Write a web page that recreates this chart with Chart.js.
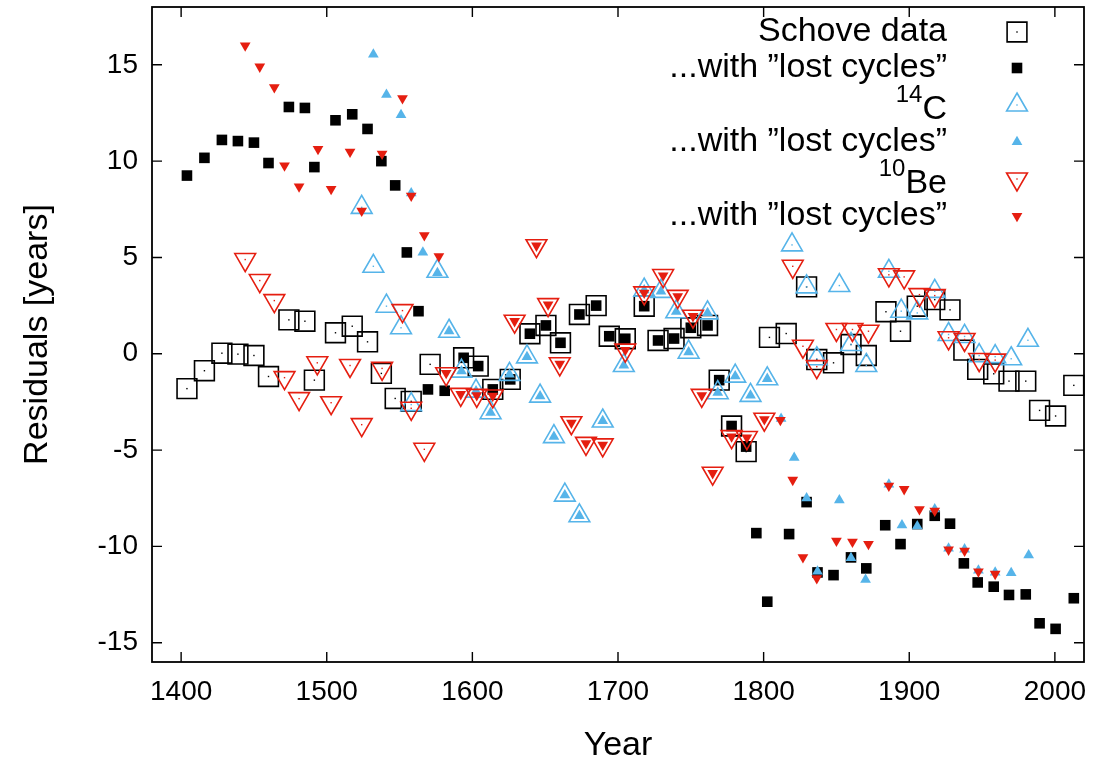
<!DOCTYPE html>
<html><head><meta charset="utf-8">
<script src="https://cdn.jsdelivr.net/npm/chart.js@4.4.1/dist/chart.umd.min.js"></script>
<style>html,body{margin:0;padding:0;background:#fff;}#wrap{width:1111px;height:765px;}</style>
</head><body><div id="wrap"><canvas id="c" width="1111" height="765"></canvas></div>
<script>
const xTicks=[1400,1500,1600,1700,1800,1900,2000];
const yTicks=[-15,-10,-5,0,5,10,15];

const schoveYears=[1404,1416,1428,1439,1450,1460,1474,1485,1491.5,1506,1517.5,1528,1537.5,1547,1558,1571,1594,1604,1614,1626,1639.5,1650.5,1660.5,1673.5,1685,1694,1705,1718,1727.5,1738.5,1750,1761.5,1769.5,1778,1788,1804,1815.5,1829.5,1836.5,1848,1860,1870.5,1884,1894,1905.5,1917.5,1928,1937.5,1947,1958,1968.5,1980,1989.5,2000.5,2013];
const schoveVals=[-1.81,-0.88,0.03,-0.02,-0.09,-1.18,1.76,1.69,-1.37,1.09,1.43,0.62,-1.02,-2.32,-2.47,-0.55,-0.21,-0.64,-1.85,-1.33,1.04,1.47,0.57,2.04,2.5,0.91,0.78,2.47,0.69,0.79,1.35,1.47,-1.37,-3.75,-5.08,0.85,1.05,3.47,-0.3,-0.47,0.48,-0.09,2.18,1.17,2.47,2.81,2.28,0.19,-0.81,-1.04,-1.42,-1.42,-2.94,-3.23,-1.64];

const schoveLostYears=[1404,1416,1428,1439,1450,1460,1474,1485,1491.5,1506,1517.5,1528,1537.5,1547,1555,1563,1569.5,1581,1594,1604,1614,1626,1639.5,1650.5,1660.5,1673.5,1685,1694,1705,1718,1727.5,1738.5,1750,1761.5,1769.5,1778,1788,1795,1802.5,1817.5,1829.5,1837,1848,1860,1870.5,1883.5,1894,1905.5,1917.5,1928,1937.5,1947,1958,1968.5,1980,1989.5,2000.5,2013];
const schoveLostVals=[9.25,10.17,11.1,11.04,10.96,9.9,12.81,12.76,9.69,12.12,12.43,11.67,10.0,8.74,5.26,2.21,-1.85,-1.92,-0.21,-0.64,-1.85,-1.33,1.04,1.47,0.57,2.04,2.5,0.91,0.78,2.47,0.69,0.79,1.35,1.47,-1.37,-3.75,-4.82,-9.31,-12.87,-9.36,-7.7,-11.35,-11.49,-10.57,-11.14,-8.9,-9.88,-8.84,-8.41,-8.82,-10.88,-11.87,-12.09,-12.52,-12.49,-13.99,-14.28,-12.69];

const c14Years=[1524,1532,1541,1551,1558,1576,1584,1592.5,1602.5,1612.5,1625.5,1637.5,1646.5,1656,1663.5,1673.5,1689.5,1704,1718,1729.5,1740,1748.5,1761.5,1768.5,1780.5,1791,1802.5,1819.5,1829.5,1836.5,1852,1860,1870.5,1886,1894.5,1905.5,1917.5,1927,1938,1948,1959,1970,1981.5];
const c14Vals=[7.6,4.54,2.47,1.35,-2.64,4.28,1.17,-0.9,-1.94,-3.06,-1.07,-0.16,-2.2,-4.3,-7.34,-8.41,-3.49,-0.61,3.3,3.24,2.18,0.08,2.12,-2.02,-1.16,-2.16,-1.3,5.65,3.47,-0.26,3.54,0.48,-0.61,4.28,2.21,2.12,3.24,1.0,0.9,-0.1,-0.15,-0.26,0.7];

const c14LostYears=[1532,1541,1551,1558,1566,1576,1584,1592.5,1602.5,1612.5,1625.5,1637.5,1646.5,1656,1663.5,1673.5,1689.5,1704,1718,1729.5,1740,1748.5,1761.5,1768.5,1780.5,1791,1802.5,1812,1821,1829.5,1837,1852,1860,1870,1886,1895,1905.5,1917.5,1927,1938,1947.5,1959,1970,1982];
const c14LostVals=[15.54,13.45,12.4,8.34,5.26,4.2,1.17,-0.9,-1.94,-3.06,-1.07,-0.16,-2.2,-4.3,-7.34,-8.41,-3.49,-0.61,3.3,3.24,2.18,0.08,2.12,-2.02,-1.16,-2.16,-1.3,-3.37,-5.39,-7.5,-11.3,-7.6,-10.6,-11.73,-6.78,-8.9,-8.95,-8.07,-10.1,-10.15,-11.25,-11.35,-11.38,-10.45];

const be10Years=[1444,1454,1464,1471,1481,1493.5,1503,1516,1524,1538,1552,1558,1567,1582,1592,1603,1614,1629,1644,1652,1660,1668,1678,1689.5,1705,1718,1731,1741,1751.5,1757.5,1765,1778,1788.5,1800.5,1820,1827,1836.5,1850,1861,1872,1886,1896.5,1907,1917.5,1927,1938,1948,1959];
const be10Vals=[4.89,3.8,2.76,-1.24,-2.33,-0.47,-2.54,-0.61,-3.68,-0.76,2.24,-2.83,-4.96,-1.04,-2.11,-2.16,-2.19,1.69,5.61,2.55,-0.52,-3.58,-4.65,-4.73,0.19,3.16,4.06,2.98,1.95,-2.16,-6.2,-4.3,-4.35,-3.4,4.54,0.39,-0.67,1.26,1.26,1.17,4.1,3.99,3.07,3.02,0.83,0.74,-0.3,-0.33];

const be10LostYears=[1444,1454,1464,1471,1481,1494,1503,1516,1524,1538,1552,1558,1567,1577,1582,1592,1603,1614,1629,1644,1652,1660,1668,1678,1689.5,1705,1718,1731,1741,1751.5,1757.5,1765,1778,1788.5,1800.5,1811.5,1820,1827,1836.5,1850,1861,1872,1886,1896.5,1907,1917.5,1927,1938,1947.5,1959];
const be10LostVals=[16.0,14.9,13.83,9.77,8.68,10.62,8.55,10.48,7.42,10.38,13.26,8.2,6.15,5.06,-1.0,-2.1,-2.16,-2.19,1.69,5.61,2.55,-0.52,-3.58,-4.65,-4.73,0.19,3.16,4.06,2.98,1.95,-2.16,-6.2,-4.3,-4.35,-3.4,-3.44,-6.55,-10.57,-11.66,-9.71,-9.76,-9.88,-6.86,-7.03,-8.07,-8.15,-10.17,-10.23,-11.31,-11.43];

const BLACK='#000000', BLUE='#56b4e9', RED='#e51e10';
const FONT='"Liberation Sans", Arial, sans-serif';

function pts(xs,ys){return xs.map((x,i)=>({x:x,y:ys[i]}));}

const specs=[
 {label:'Schove data',xs:schoveYears,ys:schoveVals,style:'rect',r:14,rot:0,filled:false,color:BLACK},
 {label:'...with \u201dlost cycles\u201d',xs:schoveLostYears,ys:schoveLostVals,style:'rect',r:7.5,rot:0,filled:true,color:BLACK},
 {label:'14C',xs:c14Years,ys:c14Vals,style:'triangle',r:12,rot:0,filled:false,color:BLUE},
 {label:'...with \u201dlost cycles\u201d',xs:c14LostYears,ys:c14LostVals,style:'triangle',r:6.2,rot:0,filled:true,color:BLUE},
 {label:'10Be',xs:be10Years,ys:be10Vals,style:'triangle',r:12,rot:180,filled:false,color:RED},
 {label:'...with \u201dlost cycles\u201d',xs:be10LostYears,ys:be10LostVals,style:'triangle',r:6.2,rot:180,filled:true,color:RED}
];

const datasets=specs.map((s,i)=>({
  label:s.label,
  data:pts(s.xs,s.ys),
  pointStyle:s.style,
  pointRadius:s.r,
  pointHoverRadius:s.r,
  pointRotation:s.rot,
  pointBorderWidth:s.filled?0:1.6,
  pointBorderColor:s.color,
  pointBackgroundColor:s.filled?s.color:'rgba(0,0,0,0)',
  showLine:false,
  clip:false,
  order:5-i
}));

function drawSym(ctx,s,x,y){
  ctx.save();
  ctx.beginPath();
  if(s.style==='rect'){
    const h=s.r/Math.SQRT2;
    ctx.rect(x-h,y-h,2*h,2*h);
  }else{
    let a=s.rot*Math.PI/180;
    ctx.moveTo(x+Math.sin(a)*s.r,y-Math.cos(a)*s.r);
    a+=2*Math.PI/3;
    ctx.lineTo(x+Math.sin(a)*s.r,y-Math.cos(a)*s.r);
    a+=2*Math.PI/3;
    ctx.lineTo(x+Math.sin(a)*s.r,y-Math.cos(a)*s.r);
    ctx.closePath();
  }
  if(s.filled){ctx.fillStyle=s.color;ctx.fill();}
  else{ctx.strokeStyle=s.color;ctx.lineWidth=1.6;ctx.stroke();
       ctx.fillStyle=s.color;ctx.fillRect(x-0.7,y-0.7,1.4,1.4);}
  ctx.restore();
}

const decor={
  id:'decor',
  beforeDraw(chart){
    const ctx=chart.ctx;ctx.save();ctx.fillStyle='#fff';ctx.fillRect(0,0,chart.width,chart.height);ctx.restore();
  },
  afterDatasetDraw(chart,args){
    const s=specs[args.index];
    if(s.filled)return;
    const ctx=chart.ctx;ctx.save();ctx.fillStyle=s.color;
    args.meta.data.forEach(p=>{ctx.fillRect(p.x-0.7,p.y-0.7,1.4,1.4);});
    ctx.restore();
  },
  afterDraw(chart){
    const ctx=chart.ctx,a=chart.chartArea,xs=chart.scales.x,ys=chart.scales.y;
    ctx.save();
    ctx.strokeStyle='#000';ctx.lineWidth=1.8;
    ctx.strokeRect(a.left,a.top,a.right-a.left,a.bottom-a.top);
    ctx.lineWidth=1.4;
    const tl=10;
    ctx.beginPath();
    xTicks.forEach(v=>{const p=xs.getPixelForValue(v);
      ctx.moveTo(p,a.bottom);ctx.lineTo(p,a.bottom-tl);
      ctx.moveTo(p,a.top);ctx.lineTo(p,a.top+tl);});
    yTicks.forEach(v=>{const p=ys.getPixelForValue(v);
      ctx.moveTo(a.left,p);ctx.lineTo(a.left+tl,p);
      ctx.moveTo(a.right,p);ctx.lineTo(a.right-tl,p);});
    ctx.stroke();
    // axis titles
    ctx.fillStyle='#000';
    ctx.font='34px '+FONT;
    ctx.textAlign='center';ctx.textBaseline='middle';
    ctx.fillText('Year',(a.left+a.right)/2,746);
    ctx.save();ctx.translate(38,(a.top+a.bottom)/2);ctx.rotate(-Math.PI/2);
    ctx.fillText('Residuals [years]',0,0);ctx.restore();
    // legend
    const tx=947,sx=1017;
    const rows=[32,68,105,142,179,216];
    ctx.textAlign='right';ctx.textBaseline='middle';
    specs.forEach((s,i)=>{
      const y=rows[i];
      if(i===2||i===4){
        const main=i===2?'C':'Be', sup=i===2?'14':'10';
        ctx.font='34px '+FONT;
        const w=ctx.measureText(main).width;
        ctx.fillText(main,tx,y+5);
        ctx.font='24px '+FONT;
        ctx.fillText(sup,tx-w,y-10);
      }else{
        ctx.font='34px '+FONT;
        ctx.fillText(s.label,tx,y);
      }
      drawSym(ctx,s,sx,y);
    });
    ctx.restore();
  }
};

new Chart(document.getElementById('c'),{
  type:'scatter',
  data:{datasets:datasets},
  options:{
    responsive:false,animation:false,devicePixelRatio:1,
    layout:{autoPadding:false,padding:{top:7,right:27,left:0,bottom:0}},
    plugins:{legend:{display:false},tooltip:{enabled:false}},
    scales:{
      x:{type:'linear',min:1380,max:2020,
        afterBuildTicks(sc){sc.ticks=xTicks.map(v=>({value:v}));},
        afterFit(sc){sc.height=103;sc.paddingLeft=0;sc.paddingRight=0;},
        grid:{display:false,drawTicks:false},border:{display:false},
        ticks:{font:{family:FONT,size:28},color:'#000',padding:13,maxRotation:0,autoSkip:false,callback:v=>String(v)}},
      y:{type:'linear',min:-16,max:18,
        afterBuildTicks(sc){sc.ticks=yTicks.map(v=>({value:v}));},
        afterFit(sc){sc.width=152;sc.paddingTop=0;sc.paddingBottom=0;},
        grid:{display:false,drawTicks:false},border:{display:false},
        ticks:{font:{family:FONT,size:28},color:'#000',padding:14,autoSkip:false,callback:v=>String(v)}}
    }
  },
  plugins:[decor]
});
</script></body></html>
